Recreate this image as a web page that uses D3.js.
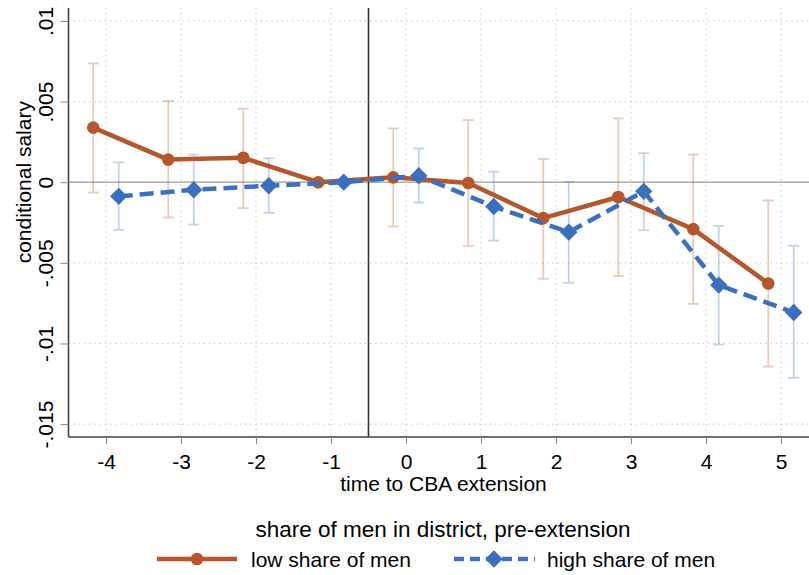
<!DOCTYPE html>
<html>
<head>
<meta charset="utf-8">
<script src="https://cdn.jsdelivr.net/npm/d3@7"></script>
<style>
  html, body { margin: 0; padding: 0; background: #fff; }
  svg { display: block; font-family: "Liberation Sans", Arial, Helvetica, sans-serif; }
</style>
</head>
<body>
<svg id="chart" width="809" height="575"></svg>
<script>
// Event-time periods relative to the CBA extension
const periods = [-4, -3, -2, -1, 0, 1, 2, 3, 4, 5];

// Low share of men: point estimate and 95% CI
const lowEst   = [0.00338, 0.00140, 0.00151, 0.00000, 0.00030, -0.00005, -0.00223, -0.00092, -0.00291, -0.00628];
const lowLo    = [-0.00064, -0.00219, -0.00161, null, -0.00275, -0.00395, -0.00599, -0.00582, -0.00755, -0.01143];
const lowHi    = [0.00736, 0.00503, 0.00456, null, 0.00333, 0.00385, 0.00144, 0.00395, 0.00171, -0.00113];

// High share of men: point estimate and 95% CI
const highEst  = [-0.00088, -0.00047, -0.00022, 0.00000, 0.00040, -0.00151, -0.00310, -0.00057, -0.00638, -0.00808];
const highLo   = [-0.00296, -0.00263, -0.00190, null, -0.00126, -0.00362, -0.00624, -0.00298, -0.01007, -0.01213];
const highHi   = [0.00123, 0.00171, 0.00148, null, 0.00209, 0.00065, 0.00001, 0.00180, -0.00271, -0.00394];

// Axis ticks and labels
const yTicks = [0.01, 0.005, 0, -0.005, -0.01, -0.015];
const yTickLabels = [".01", ".005", "0", "-.005", "-.01", "-.015"];
const xTickLabels = ["-4", "-3", "-2", "-1", "0", "1", "2", "3", "4", "5"];

const seriesNames = ["low share of men", "high share of men"];
const legendTitle = "share of men in district, pre-extension";

const ORANGE = "#b5562b";
const BLUE = "#3b6fc0";
const FONT = 21;

const svg = d3.select("#chart");

const x = d3.scaleLinear().domain([-4.5, 5.5]).range([68.5, 818.5]);
const y = d3.scaleLinear().domain([-0.0158, 0.0108]).range([437, 8]);

const offset = 0.17; // horizontal dodge between the two groups

// Grid lines (dotted)
const grid = svg.append("g");
grid.selectAll("line.hy").data(yTicks.filter(d => d !== 0)).join("line")
  .attr("x1", x(-4.5)).attr("x2", 809)
  .attr("y1", d => y(d)).attr("y2", d => y(d))
  .attr("stroke", "#c8c8c8").attr("stroke-width", 1.2).attr("stroke-dasharray", "1.2,4");
grid.selectAll("line.vx").data(periods).join("line")
  .attr("x1", d => x(d)).attr("x2", d => x(d))
  .attr("y1", 8).attr("y2", 437)
  .attr("stroke", "#c8c8c8").attr("stroke-width", 1.2).attr("stroke-dasharray", "1.2,4");

// Zero reference line
svg.append("line")
  .attr("x1", x(-4.5)).attr("x2", 809)
  .attr("y1", y(0)).attr("y2", y(0))
  .attr("stroke", "#9a9a9a").attr("stroke-width", 1.2);

// Extension marker at t = -0.5
svg.append("line")
  .attr("x1", x(-0.5)).attr("x2", x(-0.5))
  .attr("y1", 8).attr("y2", 437)
  .attr("stroke", "#333").attr("stroke-width", 1.6);

// Axes
const yAxis = d3.axisLeft(y).tickValues(yTicks).tickSize(8)
  .tickFormat((d, i) => yTickLabels[i]);
const gy = svg.append("g").attr("transform", `translate(${x(-4.5)},0)`).call(yAxis);
gy.select(".domain").attr("d", `M0,8V437`).attr("stroke", "#444").attr("stroke-width", 1.6);
gy.selectAll(".tick line").attr("stroke", "#888").attr("stroke-width", 1);
gy.selectAll(".tick text")
  .attr("font-size", FONT).attr("fill", "#000")
  .attr("transform", "rotate(-90)")
  .attr("x", 0).attr("y", -16).attr("dy", 0)
  .attr("text-anchor", "middle")
  .attr("font-family", "Liberation Sans, Arial, sans-serif");

const xAxis = d3.axisBottom(x).tickValues(periods).tickSize(7)
  .tickFormat((d, i) => xTickLabels[i]);
const gx = svg.append("g").attr("transform", `translate(0,437)`).call(xAxis);
gx.select(".domain").attr("d", `M${x(-4.5)},0H809`).attr("stroke", "#444").attr("stroke-width", 1.6);
gx.selectAll(".tick line").attr("stroke", "#888").attr("stroke-width", 1);
gx.selectAll(".tick text")
  .attr("font-size", FONT).attr("fill", "#000").attr("y", 32).attr("dy", 0)
  .attr("font-family", "Liberation Sans, Arial, sans-serif");

// Axis titles
svg.append("text")
  .attr("transform", `translate(24,${y(0)}) rotate(-90)`)
  .attr("text-anchor", "middle").attr("dy", "0.35em")
  .attr("font-size", FONT).text("conditional salary");
svg.append("text")
  .attr("x", x(0.5)).attr("y", 491)
  .attr("text-anchor", "middle")
  .attr("font-size", FONT).text("time to CBA extension");

// Build series records
function build(est, lo, hi, dx) {
  return periods.map((t, i) => ({ t: t + dx, v: est[i], lo: lo[i], hi: hi[i] }));
}
const low = build(lowEst, lowLo, lowHi, -offset);
const high = build(highEst, highLo, highHi, offset);

// Confidence intervals
function drawCI(data, color) {
  const g = svg.append("g").attr("stroke", color).attr("stroke-width", 1.8).attr("opacity", 0.3);
  const d = data.filter(p => p.lo !== null);
  g.selectAll("line.v").data(d).join("line")
    .attr("x1", p => x(p.t)).attr("x2", p => x(p.t))
    .attr("y1", p => y(p.lo)).attr("y2", p => y(p.hi));
  g.selectAll("line.t").data(d).join("line")
    .attr("x1", p => x(p.t) - 5.5).attr("x2", p => x(p.t) + 5.5)
    .attr("y1", p => y(p.hi)).attr("y2", p => y(p.hi));
  g.selectAll("line.b").data(d).join("line")
    .attr("x1", p => x(p.t) - 5.5).attr("x2", p => x(p.t) + 5.5)
    .attr("y1", p => y(p.lo)).attr("y2", p => y(p.lo));
}
drawCI(low, ORANGE);
drawCI(high, BLUE);

const line = d3.line().x(p => x(p.t)).y(p => y(p.v));

// Low share: solid line with circles
svg.append("path").datum(low).attr("d", line)
  .attr("fill", "none").attr("stroke", ORANGE).attr("stroke-width", 4.5)
  .attr("stroke-linejoin", "round");
svg.append("g").selectAll("circle").data(low).join("circle")
  .attr("cx", p => x(p.t)).attr("cy", p => y(p.v)).attr("r", 6.3)
  .attr("fill", ORANGE);

// High share: dashed line with diamonds
svg.append("path").datum(high).attr("d", line)
  .attr("fill", "none").attr("stroke", BLUE).attr("stroke-width", 4.5)
  .attr("stroke-dasharray", "14,7");
svg.append("g").selectAll("path").data(high).join("path")
  .attr("d", d3.symbol().type(d3.symbolSquare).size(150))
  .attr("transform", p => `translate(${x(p.t)},${y(p.v)}) rotate(45)`)
  .attr("fill", BLUE);

// Legend
const leg = svg.append("g");
leg.append("text").attr("x", 443).attr("y", 537).attr("text-anchor", "middle")
  .attr("font-size", 22.5).text(legendTitle);

leg.append("line").attr("x1", 157).attr("x2", 237).attr("y1", 559).attr("y2", 559)
  .attr("stroke", ORANGE).attr("stroke-width", 4.5);
leg.append("circle").attr("cx", 197).attr("cy", 559).attr("r", 6.3).attr("fill", ORANGE);
leg.append("text").attr("x", 251).attr("y", 567).attr("font-size", FONT).text(seriesNames[0]);

leg.append("line").attr("x1", 454).attr("x2", 535).attr("y1", 559).attr("y2", 559)
  .attr("stroke", BLUE).attr("stroke-width", 4.5).attr("stroke-dasharray", "10,6");
leg.append("path").attr("d", d3.symbol().type(d3.symbolSquare).size(150))
  .attr("transform", "translate(494,559) rotate(45)").attr("fill", BLUE);
leg.append("text").attr("x", 547).attr("y", 567).attr("font-size", FONT).text(seriesNames[1]);
</script>
</body>
</html>
